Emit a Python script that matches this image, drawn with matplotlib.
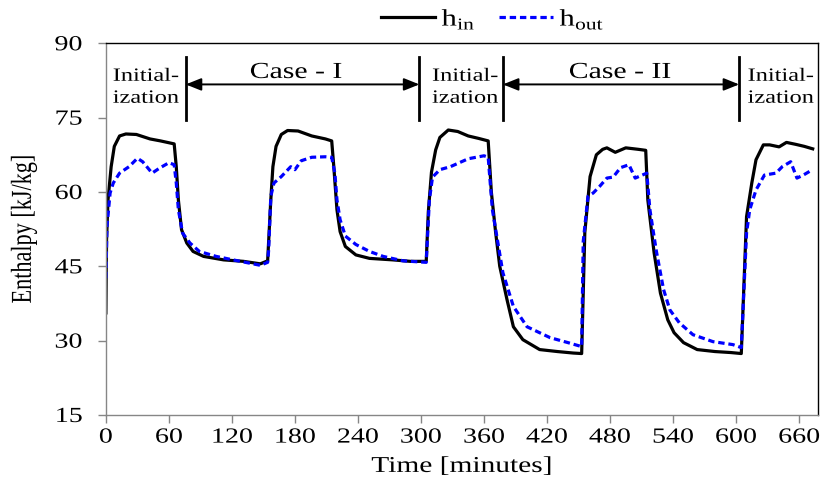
import numpy as np
import matplotlib
matplotlib.use("Agg")
import matplotlib.pyplot as plt
from matplotlib.patheffects import AbstractPathEffect
from matplotlib.transforms import Affine2D

plt.rcParams['font.family'] = ['Liberation Serif', 'DejaVu Serif']
plt.rcParams['mathtext.fontset'] = 'custom'
plt.rcParams['mathtext.rm'] = 'Liberation Serif'

# --- h_in (black, solid) ---
t_in = [0, 0.6, 2, 5, 8, 13, 19, 29, 42, 52, 65, 67, 69, 72, 77, 83, 93, 112, 131, 147, 154,
        157, 159, 162, 167, 173, 183, 196, 209, 215, 217, 220, 223, 228, 238, 251, 273, 290, 305,
        307, 310, 314, 318, 326, 335, 345, 355, 364, 367, 371, 375, 382, 388, 397, 413, 430, 445, 453,
        456, 461, 467, 473, 477, 485, 495, 507, 514,
        516, 522, 528, 535, 541, 550, 563, 580, 595, 605,
        610, 615, 619, 626, 632, 641, 648, 657, 665, 673]
h_in = [35.6, 50.3, 58.4, 65.1, 69.2, 71.3, 71.7, 71.6, 70.7, 70.3, 69.7, 65.1, 58.4, 52.4, 49.7, 48.0, 47.0, 46.3, 46.0, 45.5, 46.1,
        58.4, 65.1, 69.2, 71.6, 72.4, 72.3, 71.3, 70.7, 70.3, 65.1, 56.4, 52.0, 49.0, 47.3, 46.6, 46.3, 46.0, 46.0,
        56.0, 64.0, 68.5, 71.0, 72.5, 72.2, 71.3, 70.8, 70.3, 60.0, 52.0, 45.0, 38.2, 32.8, 30.2, 28.2, 27.8, 27.5, 27.4,
        51.8, 63.1, 67.5, 68.6, 68.9, 68.0, 68.9, 68.6, 68.4,
        58.4, 47.7, 39.6, 34.2, 31.6, 29.6, 28.2, 27.8, 27.6, 27.4,
        55.0, 61.8, 66.5, 69.5, 69.5, 69.1, 70.0, 69.6, 69.2, 68.7]

# --- h_out (blue, dashed) ---
t_out = [0, 1, 4, 7, 13, 22, 30, 35, 44, 51, 60, 65, 67, 69, 73, 80, 89, 105, 121, 140, 147, 154,
         155, 157, 160, 167, 176, 180, 186, 196, 209, 215, 218, 220, 223, 228, 238, 251, 264, 283, 305,
         308, 311, 318, 328, 345, 360, 364, 368, 378, 388, 401, 423, 440, 453,
         454.5, 459, 464, 470, 477, 483, 490, 498, 504, 515,
         518, 524, 531, 537, 546, 559, 578, 597, 605,
         610, 613, 619, 627, 638, 644, 652, 658, 664, 672]
h_out = [42.6, 53.0, 59.8, 61.8, 63.8, 65.1, 66.8, 66.1, 63.8, 64.8, 65.9, 65.5, 61.8, 56.4, 51.7, 49.7, 48.0, 47.0, 46.3, 45.5, 45.2, 45.8,
         48.4, 59.1, 61.8, 63.1, 65.1, 64.5, 66.3, 67.0, 67.1, 67.0, 63.8, 58.4, 54.4, 51.1, 49.4, 48.0, 47.0, 46.1, 45.8,
         58.4, 63.0, 64.5, 65.1, 66.7, 67.3, 67.0, 56.4, 43.7, 36.9, 32.8, 30.6, 29.6, 28.8,
         50.0, 59.1, 59.8, 61.1, 62.8, 63.0, 64.9, 65.5, 62.8, 63.8,
         56.4, 48.2, 40.3, 36.2, 33.6, 31.2, 29.8, 29.2, 28.6,
         51.7, 56.4, 60.4, 63.4, 63.8, 65.1, 66.1, 62.8, 63.4, 64.4]

# phase boundaries [minutes] and labels
bounds = [76, 298.5, 378, 603]
init_x = [6.5, 310.5, 611]
case_lab = ["Case - I", "Case - II"]
case_x = [181, 489.5]
case_span = [(76, 298.5), (378, 603)]

SX = 1.3   # the source picture is stretched sideways; glyphs get the same stretch


class Widen(AbstractPathEffect):
    def __init__(self, txt, sx=SX):
        super().__init__()
        self.txt, self.sx = txt, sx

    def draw_path(self, renderer, gc, tpath, affine, rgbFace=None):
        x0 = self.txt.get_transform().transform(self.txt.get_position())[0]
        st = Affine2D().translate(-x0, 0).scale(self.sx, 1).translate(x0, 0)
        renderer.draw_path(gc, tpath, affine + st, rgbFace)


def widen(t):
    t.set_path_effects([Widen(t)])
    return t


fig = plt.figure(figsize=(8.21, 4.83), dpi=100)
ax = fig.add_axes([0.129, 0.1408, 0.8673, 0.7696])

ax.plot(t_in, h_in, color='black', lw=2.3, label=r'h$_{\mathrm{in}}$')
ax.plot(t_out, h_out, color='#0000ff', lw=2.3, ls=(0, (2.0, 1.2)), label=r'h$_{\mathrm{out}}$')

for b in bounds:
    ax.plot([b, b], [74.5, 87.2], color='black', lw=2.0)
for x in init_x:
    # multi-line 'baseline' = baseline of the last line
    widen(ax.text(x, 78.0, "Initial-\nization", fontsize=13.5, ha='left', va='baseline', linespacing=1.38))
for lab, x, (a, b) in zip(case_lab, case_x, case_span):
    ax.annotate("", xy=(a, 81.7), xytext=(b, 81.7),
                arrowprops=dict(arrowstyle='<|-|>,head_length=0.55,head_width=0.22', color='black',
                                lw=1.4, mutation_scale=17, shrinkA=0, shrinkB=0))
    widen(ax.text(x, 83.0, lab, fontsize=16.5, ha='center', va='baseline'))

ax.set_xlim(0, 678)
ax.set_ylim(15, 90)
ax.set_xticks(np.arange(0, 661, 60))
ax.set_yticks(np.arange(15, 91, 15))
ax.tick_params(labelsize=15.5, color='#868686', direction='out', length=5.8, width=1)
ax.tick_params(axis='y', pad=11)
ax.tick_params(axis='x', pad=4)
for s in ('left', 'bottom'):
    ax.spines[s].set_color('#868686')
for s in ('top', 'right'):
    ax.spines[s].set_color('black')
for s in ax.spines.values():
    s.set_linewidth(1.0)
widen(ax.set_xlabel("Time [minutes]", fontsize=16.3, labelpad=6))
widen(ax.set_ylabel("Enthalpy [kJ/kg]", fontsize=16, labelpad=17))
for t in ax.get_xticklabels() + ax.get_yticklabels():
    widen(t)

leg = fig.legend(loc='center', bbox_to_anchor=(0.594, 0.959), ncol=2, frameon=False, fontsize=17,
                 handlelength=2.3, handletextpad=0.27, columnspacing=1.3)
for t in leg.get_texts():
    widen(t)

fig.savefig("out.png", dpi=100)
